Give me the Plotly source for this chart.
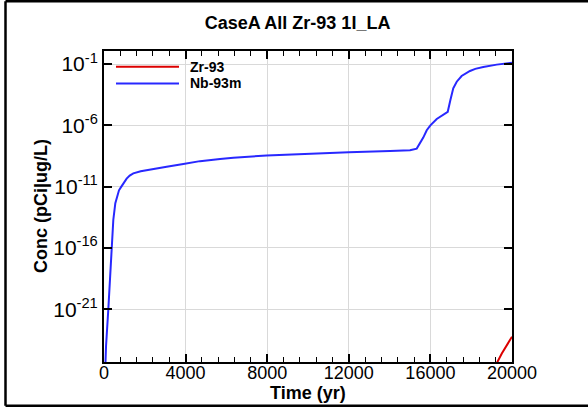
import plotly.graph_objects as go

# ---- data ----
nb_time = [60, 100, 212, 300, 392, 457, 555, 640, 735, 850, 980, 1110, 1260, 1437, 1800,
           2255, 3072, 3889, 4706, 5690, 6340, 7975, 9608, 11240, 12000, 14020, 14510,
           15000, 15330, 15490, 15650, 15820, 16000, 16310, 16630, 16850, 16980, 17120,
           17290, 17530, 17940, 18200, 18590, 19250, 20000]
nb_conc = [1.0e-26, 1.0e-24, 1.0e-21, 3.2e-19, 1.0e-16, 2.0e-14, 4.5e-13, 1.8e-12,
           5.0e-12, 1.0e-11, 2.3e-11, 4.5e-11, 8.0e-11, 1.2e-10, 1.8e-10, 2.5e-10,
           4.2e-10, 6.9e-10, 1.2e-9, 1.8e-9, 2.3e-9, 3.5e-9, 4.6e-9, 5.5e-9, 6.3e-9,
           7.9e-9, 8.5e-9, 9.3e-9, 1.26e-8, 3.2e-8, 1.0e-7, 4.0e-7, 1.0e-6, 3.3e-6,
           7.6e-6, 1.26e-5, 1.15e-4, 1.05e-3, 3.6e-3, 1.05e-2, 2.7e-2, 4.0e-2, 5.6e-2,
           8.9e-2, 0.126]
zr_time = [19100, 19500, 20000]
zr_conc = [1.3e-26, 2.5e-25, 5.8e-24]

x_ticks = [0, 4000, 8000, 12000, 16000, 20000]
x_ticktext = ["0", "4000", "8000", "12000", "16000", "20000"]
y_tickvals = [1e-1, 1e-6, 1e-11, 1e-16, 1e-21]
y_ticktext = ["10<sup>-1</sup>", "10<sup>-6</sup>", "10<sup>-11</sup>",
              "10<sup>-16</sup>", "10<sup>-21</sup>"]
series_names = ["Zr-93", "Nb-93m"]
series_colors = ["rgb(220,0,0)", "rgb(40,40,255)"]

FONT = "Liberation Sans, Arial, sans-serif"
W, H = 588, 407
L, R, T, B = 104, 76, 51, 45
PW, PH = W - L - R, H - T - B

fig = go.Figure()
fig.add_trace(go.Scatter(x=zr_time, y=zr_conc, mode="lines", name=series_names[0],
                         line=dict(color=series_colors[0], width=2), showlegend=False))
fig.add_trace(go.Scatter(x=nb_time, y=nb_conc, mode="lines", name=series_names[1],
                         line=dict(color=series_colors[1], width=2), showlegend=False))

def px_x(p):
    return (p - L) / PW

def px_y(p):
    return 1 - (p - T) / PH

shapes = []
annotations = []
# legend (manual)
for i, (nm, col) in enumerate(zip(series_names, series_colors)):
    yy = px_y(66.7 + i * 16.7)
    shapes.append(dict(type="line", xref="paper", yref="paper", x0=px_x(116), x1=px_x(179),
                       y0=yy, y1=yy, line=dict(color=col, width=2)))
    annotations.append(dict(xref="paper", yref="paper", x=px_x(188), y=yy, xanchor="left",
                            yanchor="middle", text="<b>%s</b>" % nm, showarrow=False,
                            font=dict(family=FONT, size=14, color="black")))

# axis titles
annotations.append(dict(xref="paper", yref="paper", x=px_x(308), y=px_y(393),
                        xanchor="center", yanchor="middle", text="<b>Time (yr)</b>",
                        showarrow=False, font=dict(family=FONT, size=18, color="black")))
annotations.append(dict(xref="paper", yref="paper", x=px_x(41), y=px_y(206),
                        xanchor="center", yanchor="middle", text="<b>Conc (pCi|ug/L)</b>",
                        textangle=-90, showarrow=False,
                        font=dict(family=FONT, size=18, color="black")))

# outer frame (left, top, bottom)
fl, ft, fb, fr = px_x(5.5), px_y(1.2), px_y(405.8), px_x(588)
for (x0, y0, x1, y1) in [(fl, fb, fl, ft), (fl, ft, fr, ft), (fl, fb, fr, fb)]:
    shapes.append(dict(type="line", xref="paper", yref="paper", x0=x0, y0=y0, x1=x1, y1=y1,
                       line=dict(color="black", width=2.5)))

fig.update_layout(
    width=W, height=H,
    margin=dict(l=L, r=R, t=T, b=B, pad=0),
    paper_bgcolor="white", plot_bgcolor="white",
    title=dict(text="<b>CaseA All Zr-93 1I_LA</b>", x=0.506, xref="container",
               y=1 - 22.5 / H, yref="container", xanchor="center", yanchor="middle",
               font=dict(family=FONT, size=18, color="black")),
    shapes=shapes, annotations=annotations,
    xaxis=dict(range=[0, 20000], tickvals=x_ticks, ticktext=x_ticktext, ticks="inside",
               ticklen=8, tickwidth=1.5, tickcolor="black", showline=True,
               linecolor="black", linewidth=2, mirror="ticks", showgrid=True,
               gridcolor="#d9d9d9", gridwidth=1, zeroline=False, ticklabelstandoff=-7,
               tickfont=dict(family=FONT, size=18, color="black"),
               minor=dict(dtick=800, ticks="inside", ticklen=5, tickcolor="black",
                          tickwidth=1, showgrid=False)),
    yaxis=dict(type="log", range=[-25.3, 0.06], tickvals=y_tickvals, ticktext=y_ticktext,
               ticks="inside", ticklen=8, tickwidth=1.5, tickcolor="black", showline=True,
               linecolor="black", linewidth=2, mirror="ticks", showgrid=True,
               gridcolor="#d9d9d9", gridwidth=1, zeroline=False,
               tickfont=dict(family=FONT, size=21, color="black")),
)

fig.write_html("out.html", config={"displayModeBar": False},
               post_script="document.body.style.margin='0px';document.body.style.overflow='hidden';")
